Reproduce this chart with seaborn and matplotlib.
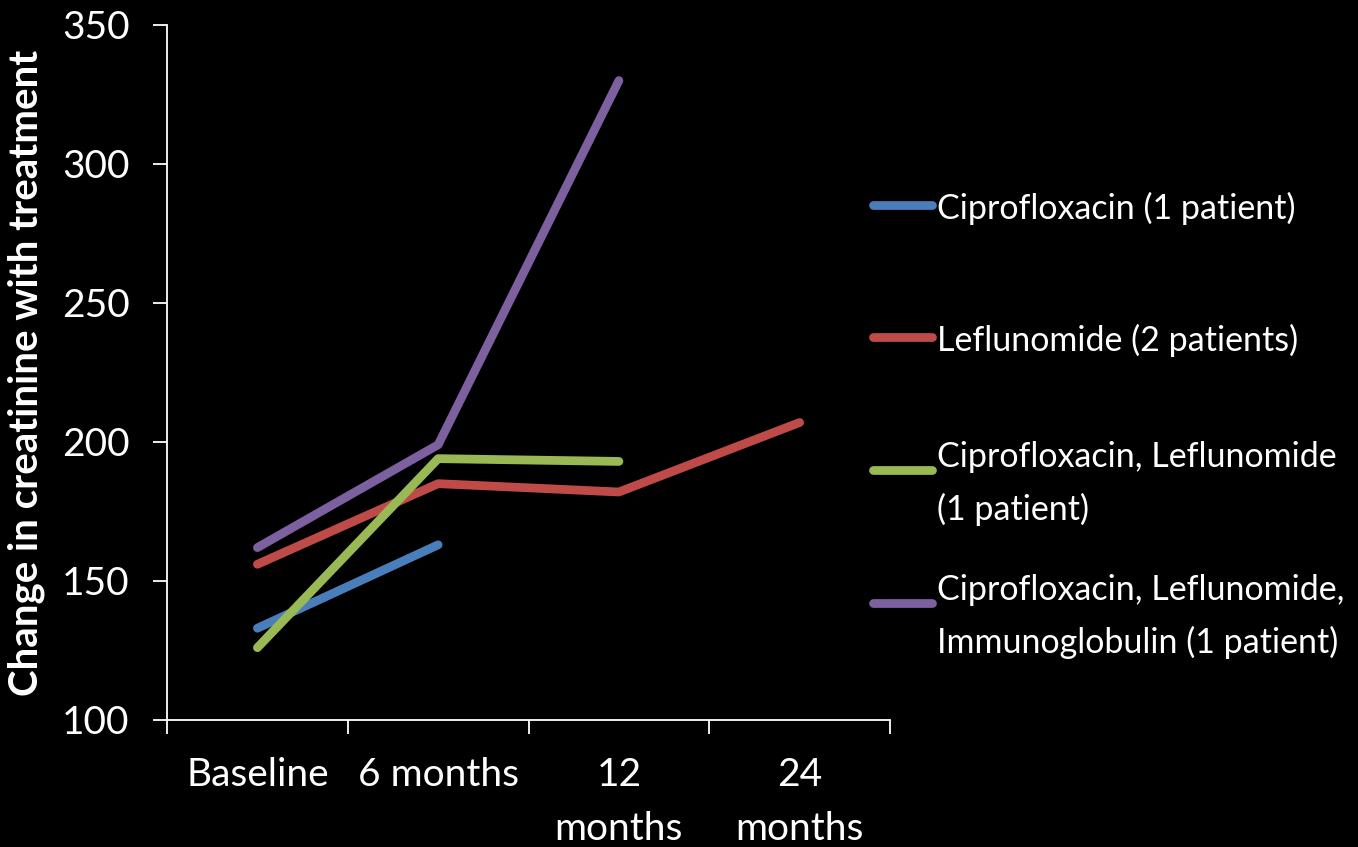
import numpy as np
import pandas as pd
import matplotlib
matplotlib.use("Agg")
import matplotlib.pyplot as plt
from matplotlib.lines import Line2D
import seaborn as sns

# Time points and creatinine values per treatment group
timepoints = ["Baseline", "6 months", "12\nmonths", "24\nmonths"]
series_names = [
    "Ciprofloxacin (1 patient)",
    "Leflunomide (2 patients)",
    "Ciprofloxacin, Leflunomide\n(1 patient)",
    "Ciprofloxacin, Leflunomide,\nImmunoglobulin (1 patient)",
]
cipro = [133, 163, np.nan, np.nan]
leflunomide = [156, 185, 182, 207]
cipro_lef = [126, 194, 193, np.nan]
cipro_lef_ig = [162, 199, 330, np.nan]
colors = ["#4A7EBB", "#BE4B48", "#98B954", "#7D60A0"]

yticks = [100, 150, 200, 250, 300, 350]

sns.set_style("dark")
plt.rcParams["font.family"] = ["Lato", "DejaVu Sans"]

rows = []
for name, vals in zip(series_names, [cipro, leflunomide, cipro_lef, cipro_lef_ig]):
    for i, v in enumerate(vals):
        rows.append({"series": name, "x": i, "value": v})
df = pd.DataFrame(rows).dropna()

fig = plt.figure(figsize=(13.58, 8.47), dpi=100, facecolor="black")
ax = fig.add_axes([0.123, 0.150, 0.5324, 0.8205])
ax.set_facecolor("black")

sns.lineplot(data=df, x="x", y="value", hue="series", hue_order=series_names,
             palette=colors, estimator=None, sort=False, linewidth=6.3,
             solid_capstyle="round", legend=False, ax=ax)

ax.set_xlim(-0.5, 3.5)
ax.set_ylim(100, 350)
ax.grid(False)

for side in ["top", "right"]:
    ax.spines[side].set_visible(False)
for side in ["left", "bottom"]:
    ax.spines[side].set_visible(True)
    ax.spines[side].set_color("white")
    ax.spines[side].set_linewidth(1.3)

fs = 28
ax.set_yticks(yticks)
ax.set_yticklabels([str(t) for t in yticks])
ax.tick_params(axis="y", colors="white", labelsize=fs, length=10, width=1.3,
               direction="out", pad=17, left=True)

# Category boundaries carry the tick marks; labels sit at category centers
ax.set_xticks(np.arange(-0.5, 4.0, 1.0))
ax.set_xticklabels([])
ax.set_xticks(np.arange(len(timepoints)), minor=True)
ax.set_xticklabels(timepoints, minor=True, fontsize=fs, color="white",
                   linespacing=1.6)
ax.tick_params(axis="x", which="major", colors="white", length=10, width=1.3,
               direction="out", bottom=True)
ax.tick_params(axis="x", which="minor", length=0, pad=27, bottom=True)

ax.set_xlabel("")
ax.set_ylabel("Change in creatinine with treatment", color="white",
              fontsize=29, fontweight="bold", labelpad=12)

# Legend drawn at the right of the plot, one entry per group
entry_y = [0.758, 0.602, 0.445, 0.288]
for name, col, yy in zip(series_names, colors, entry_y):
    fig.add_artist(Line2D([0.643, 0.686], [yy, yy], transform=fig.transFigure,
                          color=col, linewidth=6.3, solid_capstyle="round"))
    fig.text(0.690, yy, name, color="white", fontsize=24.5,
             va="center_baseline", ha="left", linespacing=1.75)

fig.savefig("out.png", dpi=100, facecolor="black")
